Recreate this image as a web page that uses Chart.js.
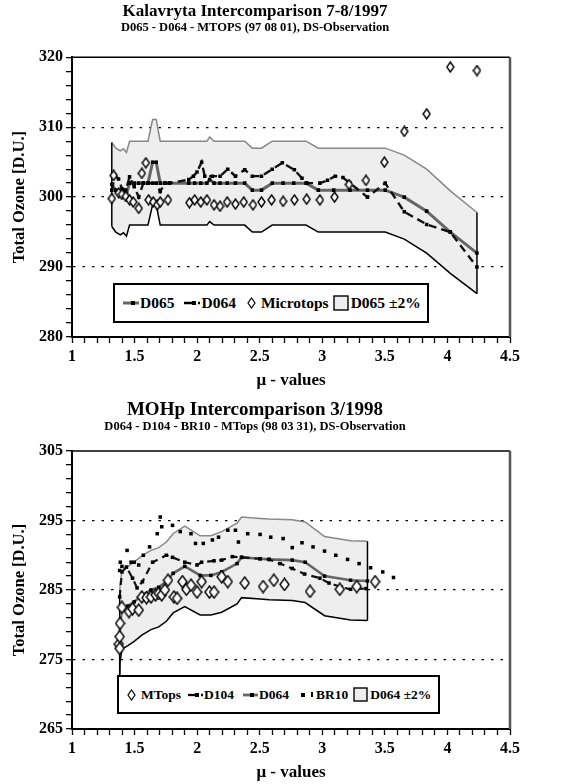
<!DOCTYPE html>
<html>
<head>
<meta charset="utf-8">
<title>Total ozone intercomparisons</title>
<script src="https://cdn.jsdelivr.net/npm/chart.js@4.4.1/dist/chart.umd.min.js"></script>
<style>
  html, body { margin: 0; padding: 0; background: #fff; }
  body { width: 566px; height: 784px; position: relative; overflow: hidden; font-family: "Liberation Serif", "Times New Roman", serif; }
  canvas { position: absolute; left: 0; }
  #top { top: 0; }
  #bottom { top: 392px; }
  .legend { position: absolute; box-sizing: border-box; border: 2px solid #000; background: #fff; display: flex; align-items: center; font-weight: bold; white-space: nowrap; color: #000; }
  .legend svg { display: block; flex: none; }
</style>
</head>
<body>
<canvas id="top" width="566" height="392"></canvas>
<canvas id="bottom" width="566" height="392"></canvas>

<div class="legend" style="left:113px;top:283px;width:316px;height:40px;padding-left:8px;font-size:15.5px">
  <svg width="16" height="10"><line x1="0" y1="5" x2="16" y2="5" stroke="#666" stroke-width="3"/><rect x="8" y="3" width="4" height="4" fill="#000"/></svg>
  <span style="margin-left:1px">D065</span>
  <svg width="16" height="10" style="margin-left:10px"><line x1="0" y1="5" x2="8" y2="5" stroke="#000" stroke-width="2.5"/><rect x="8" y="3" width="4" height="4" fill="#000"/><line x1="14" y1="5" x2="16" y2="5" stroke="#000" stroke-width="2.5"/></svg>
  <span style="margin-left:1px">D064</span>
  <svg width="9" height="12" style="margin-left:11px"><polygon points="4.5,1 8,6 4.5,11 1,6" fill="#fff" stroke="#000" stroke-width="1.2"/></svg>
  <span style="margin-left:5px">Microtops</span>
  <svg width="16" height="16" style="margin-left:4px"><rect x="1" y="1" width="14" height="14" fill="#eee" stroke="#000" stroke-width="1.4"/></svg>
  <span style="margin-left:2px">D065 ±2%</span>
</div>

<div class="legend" style="left:117px;top:675px;width:323px;height:39px;padding-left:8px;font-size:13.5px">
  <svg width="9" height="12"><polygon points="4.5,1 8,6 4.5,11 1,6" fill="#fff" stroke="#000" stroke-width="1.2"/></svg>
  <span style="margin-left:5px">MTops</span>
  <svg width="15" height="10" style="margin-left:7px"><line x1="0" y1="5" x2="7" y2="5" stroke="#000" stroke-width="2.3"/><rect x="7" y="3" width="4" height="4" fill="#000"/><line x1="13" y1="5" x2="15" y2="5" stroke="#000" stroke-width="2.3"/></svg>
  <span style="margin-left:1px">D104</span>
  <svg width="15" height="10" style="margin-left:9px"><line x1="0" y1="5" x2="15" y2="5" stroke="#666" stroke-width="2.8"/><rect x="7" y="3" width="4" height="4" fill="#000"/></svg>
  <span style="margin-left:1px">D064</span>
  <svg width="15" height="10" style="margin-left:11px"><rect x="1" y="3" width="4" height="4" fill="#000"/><rect x="11" y="2" width="2" height="5" fill="#000"/></svg>
  <span style="margin-left:1px">BR10</span>
  <svg width="15" height="15" style="margin-left:5px"><rect x="1" y="1" width="13" height="13" fill="#eee" stroke="#000" stroke-width="1.4"/></svg>
  <span style="margin-left:2px">D064 ±2%</span>
</div>

<script>
const FONT = '"Liberation Serif", "Times New Roman", serif';

// shared x axis
const xTicks = [1, 1.5, 2, 2.5, 3, 3.5, 4, 4.5];

// ---- Kalavryta 7-8/1997 ----
const topYTicks = [280, 290, 300, 310, 320];
const topMu = [1.318,1.350,1.386,1.411,1.435,1.460,1.497,1.533,1.570,1.607,1.644,1.673,1.705,1.742,1.779,1.933,1.980,2.029,2.078,2.100,2.135,2.183,2.240,2.306,2.380,2.441,2.514,2.600,2.687,2.772,2.870,2.968,3.091,3.221,3.361,3.503,3.655,3.834,4.023,4.236];
const topD065 = [301.8,301.0,300.6,300.9,300.4,302,302,302,302,302,305,305,302,302,302,302,302,302,302,302.5,302,302,302,302,302,301,301,302,302,302,302,301,301,301,301,301,300,298,295,292];
const topBandHigh = [307.8,307.0,306.6,306.9,306.4,308,308,308,308,308,311.1,311.1,308,308,308,308,308,308,308,308.6,308,308,308,308,308,307,307,308,308,308,308,307,307,307,307,307,306,304,300.9,297.8];
const topBandLow = [295.8,295.0,294.6,294.9,294.4,296,296,296,296,296,298.9,298.9,296,296,296,296,296,296,296,296.5,296,296,296,296,296,295,295,296,296,296,296,295,295,295,295,295,294,292,289.1,286.2];
const topD064Mu = [1.318,1.345,1.372,1.399,1.430,1.460,1.497,1.533,1.570,1.607,1.644,1.673,1.705,1.742,1.779,1.933,1.970,1.999,2.036,2.061,2.122,2.183,2.245,2.306,2.380,2.441,2.514,2.600,2.681,2.777,2.838,2.878,2.981,3.042,3.103,3.165,3.221,3.361,3.503,3.655,3.834,4.023,4.236];
const topD064 = [301.0,303.1,302.6,301.2,301.0,302.9,301.5,300.0,302,302,302,302,300.8,302,302,302.5,303.0,303.6,305.0,303.0,303.0,303.0,304.0,303.0,303.9,303.0,303.0,304.0,304.9,303.9,302.7,302.0,302.0,302.4,303.0,302.8,302.0,300.0,302.0,297.9,296.1,295.0,290.0];
const topMtMu = [1.318,1.333,1.374,1.399,1.430,1.460,1.489,1.533,1.558,1.590,1.612,1.649,1.681,1.705,1.767,1.938,1.980,2.029,2.078,2.135,2.183,2.240,2.306,2.372,2.446,2.514,2.595,2.687,2.777,2.875,2.981,3.098,3.213,3.349,3.496,3.655,3.834,4.023,4.236];
const topMt = [299.8,303.1,300.6,300.4,300.1,299.6,299.3,298.4,303.4,304.9,299.6,299.3,298.9,299.3,299.6,299.2,299.6,299.3,299.6,298.9,298.7,299.3,299.0,299.3,298.9,299.3,299.6,299.4,299.6,299.7,299.6,300.0,301.8,302.4,305.0,309.4,311.9,318.6,318.1];

// ---- MOHp 3/1998 ----
const botYTicks = [265, 275, 285, 295, 305];
const botMu = [1.381,1.384,1.399,1.447,1.497,1.558,1.631,1.693,1.754,1.808,1.901,2.024,2.110,2.196,2.319,2.355,2.503,2.576,2.760,2.863,3.018,3.226,3.361];
const botD064 = [278.3,280.2,282.1,282.7,283.3,284.2,285.0,285.4,286.2,287.4,288.4,287.1,287.1,287.6,288.8,289.7,289.5,289.4,289.3,289.0,287.0,286.4,286.3];
const botBandHigh = [283.9,285.8,287.7,288.4,289.0,289.9,290.7,291.1,291.9,293.1,294.2,292.8,292.8,293.4,294.6,295.5,295.3,295.2,295.1,294.8,292.7,292.1,292.0];
const botBandLow = [272.7,274.6,276.5,277.0,277.6,278.5,279.3,279.7,280.5,281.7,282.6,281.4,281.4,281.8,283.0,283.9,283.7,283.6,283.5,283.2,281.3,280.7,280.6];
const botD104Mu = [1.381,1.399,1.435,1.484,1.520,1.563,1.644,1.754,1.803,1.901,1.999,2.036,2.135,2.196,2.282,2.355,2.503,2.576,2.662,2.760,2.858,2.981,3.054,3.152,3.226,3.349];
const botD104 = [284.0,287.6,288.3,286.7,285.3,286.2,289.0,290.0,289.7,289.0,288.6,289.0,289.2,289.3,289.8,289.7,289.5,289.4,288.8,288.1,287.3,286.7,286.0,285.4,285.1,285.2];
const botBrMu = [1.381,1.386,1.399,1.440,1.472,1.497,1.533,1.570,1.620,1.681,1.705,1.717,1.803,1.865,1.951,1.987,2.049,2.122,2.171,2.245,2.306,2.330,2.404,2.503,2.588,2.687,2.760,2.838,2.926,3.018,3.108,3.202,3.294,3.386,3.483,3.569];
const botBr = [287.8,289.0,288.4,290.7,289.0,289.0,288.6,290.0,291.2,293.1,295.5,294.1,294.3,293.4,293.1,291.7,291.7,292.2,292.6,293.6,293.6,291.9,293.1,293.0,292.6,292.4,291.1,291.8,291.2,290.6,290.0,289.4,288.8,288.2,287.6,286.8];
const botMtMu = [1.374,1.381,1.381,1.384,1.399,1.455,1.484,1.533,1.558,1.595,1.631,1.668,1.693,1.717,1.742,1.767,1.815,1.840,1.882,1.914,1.951,1.999,2.036,2.098,2.135,2.196,2.245,2.380,2.527,2.613,2.698,2.902,3.140,3.275,3.422];
const botMt = [277.2,276.6,278.3,280.2,282.5,281.9,282.3,282.1,284.0,283.9,284.0,284.3,284.5,284.3,285.0,286.4,284.0,283.8,286.2,285.1,285.7,284.7,286.2,284.7,284.7,286.9,286.2,286.0,285.5,286.4,285.8,284.8,285.1,285.5,286.2];

Chart.defaults.font.family = FONT;
Chart.defaults.color = '#000';

const pts = (xs, ys) => xs.map((x, i) => ({ x: x, y: ys[i] }));

function diamond(w, h) {
  const c = document.createElement('canvas');
  c.width = w + 2; c.height = h + 2;
  const g = c.getContext('2d');
  g.beginPath();
  g.moveTo(c.width / 2, 1); g.lineTo(c.width - 1, c.height / 2);
  g.lineTo(c.width / 2, c.height - 1); g.lineTo(1, c.height / 2);
  g.closePath();
  g.fillStyle = '#fff'; g.fill();
  g.lineWidth = 1.4; g.strokeStyle = '#000'; g.stroke();
  return c;
}

function lineSet(label, xs, ys, color, width, dash) {
  return { label, data: pts(xs, ys), borderColor: color, borderWidth: width, borderDash: dash,
    pointStyle: 'rect', pointRadius: 2.5, pointBackgroundColor: '#000', pointBorderWidth: 0,
    fill: false, tension: 0 };
}

function pointSet(label, xs, ys, style, r) {
  return { label, data: pts(xs, ys), showLine: false, pointStyle: style, pointRadius: r,
    pointBackgroundColor: '#000', pointBorderWidth: 0, fill: false };
}

function bandSets(xs, lo, hi) {
  const n = xs.length - 1;
  return [
    { label: 'edgeL', data: [{ x: xs[0], y: lo[0] }, { x: xs[0], y: hi[0] }], borderColor: '#000', borderWidth: 1.5, pointRadius: 0, fill: false },
    { label: 'edgeR', data: [{ x: xs[n], y: lo[n] }, { x: xs[n], y: hi[n] }], borderColor: '#000', borderWidth: 1.5, pointRadius: 0, fill: false },
    { label: 'low', data: pts(xs, lo), borderColor: '#000', borderWidth: 1.5, pointRadius: 0, fill: false },
    { label: 'high', data: pts(xs, hi), borderColor: '#888', borderWidth: 1.5, pointRadius: 0, fill: '-1', backgroundColor: '#eeeeee' }
  ];
}

const framePlugin = {
  id: 'frame',
  afterDatasetsDraw(chart) {
    const a = chart.chartArea, c = chart.ctx;
    c.save();
    c.lineWidth = 1.5; c.strokeStyle = '#000';
    c.beginPath(); c.moveTo(a.left, a.top); c.lineTo(a.right, a.top); c.stroke();
    c.lineWidth = 2.5; c.strokeStyle = '#555';
    c.beginPath(); c.moveTo(a.right, a.top); c.lineTo(a.right, a.bottom); c.stroke();
    c.restore();
  }
};

const bold = size => ({ family: FONT, size: size, weight: 'bold' });

function options(o) {
  const inner = o.yTicks.slice(1, -1);
  return {
    responsive: false, animation: false, devicePixelRatio: 1,
    layout: { padding: { left: 0, right: 56, top: 0, bottom: 0 } },
    plugins: {
      legend: { display: false }, tooltip: { enabled: false },
      title: { display: true, text: o.title, color: '#000', font: { family: FONT, size: o.titleSize, weight: 'bold', lineHeight: 1.0 }, padding: o.titlePad },
      subtitle: { display: true, text: o.subtitle, color: '#000', font: { family: FONT, size: 12.5, weight: 'bold', lineHeight: 1.0 }, padding: o.subPad }
    },
    scales: {
      x: {
        type: 'linear', min: 1, max: 4.5,
        afterFit: s => { s.height = 55; },
        ticks: { stepSize: 0.1, autoSkip: false, maxRotation: 0, padding: 4, color: '#000', font: bold(16),
          callback: v => xTicks.some(t => Math.abs(t - v) < 1e-6) ? String(v) : '' },
        grid: { drawOnChartArea: false, drawTicks: true, tickLength: 6, tickColor: '#000', tickWidth: 1.3 },
        border: { display: true, color: '#000', width: 2 },
        title: { display: true, text: 'μ - values', color: '#000', font: bold(17), padding: { top: 0, bottom: 1 } }
      },
      y: {
        type: 'linear', min: o.yTicks[0], max: o.yTicks[o.yTicks.length - 1],
        afterFit: s => { s.width = 72; },
        ticks: { stepSize: 2, autoSkip: false, padding: 3, color: '#000', font: bold(16),
          callback: v => o.yTicks.includes(v) ? String(v) : '' },
        grid: { drawTicks: true, tickLength: 6, tickColor: '#000', tickWidth: 1.3, lineWidth: 1.3,
          color: c => (c.tick && inner.includes(c.tick.value)) ? '#000' : 'rgba(0,0,0,0)' },
        border: { display: true, color: '#000', width: 2, dash: [2.5, 7] },
        title: { display: true, text: 'Total Ozone [D.U.]', color: '#000', font: bold(16.5), padding: { top: 10, bottom: 0 } }
      }
    }
  };
}

new Chart(document.getElementById('top'), {
  type: 'line',
  data: {
    datasets: [
      { label: 'Microtops', data: pts(topMtMu, topMt), showLine: false, pointStyle: diamond(7, 10), pointRadius: 5 },
      lineSet('D064', topD064Mu, topD064, '#111', 2.4, [8, 5]),
      lineSet('D065', topMu, topD065, '#666', 3, []),
      ...bandSets(topMu, topBandLow, topBandHigh)
    ]
  },
  options: options({
    yTicks: topYTicks,
    title: 'Kalavryta Intercomparison 7-8/1997',
    subtitle: 'D065 - D064 - MTOPS (97 08 01), DS-Observation',
    titleSize: 17,
    titlePad: { top: 3.5, bottom: 0 },
    subPad: { top: 1.25, bottom: 23 }
  }),
  plugins: [framePlugin]
});

new Chart(document.getElementById('bottom'), {
  type: 'line',
  data: {
    datasets: [
      { label: 'MTops', data: pts(botMtMu, botMt), showLine: false, pointStyle: diamond(9, 12), pointRadius: 6 },
      pointSet('BR10', botBrMu, botBr, 'rect', 2.5),
      lineSet('D104', botD104Mu, botD104, '#111', 2.2, [7, 5]),
      lineSet('D064', botMu, botD064, '#666', 2.6, []),
      ...bandSets(botMu, botBandLow, botBandHigh)
    ]
  },
  options: options({
    yTicks: botYTicks,
    title: 'MOHp Intercomparison 3/1998',
    subtitle: 'D064 - D104 - BR10 - MTops (98 03 31), DS-Observation',
    titleSize: 19,
    titlePad: { top: 8.5, bottom: 0 },
    subPad: { top: 1.25, bottom: 17.75 }
  }),
  plugins: [framePlugin]
});
</script>
</body>
</html>
